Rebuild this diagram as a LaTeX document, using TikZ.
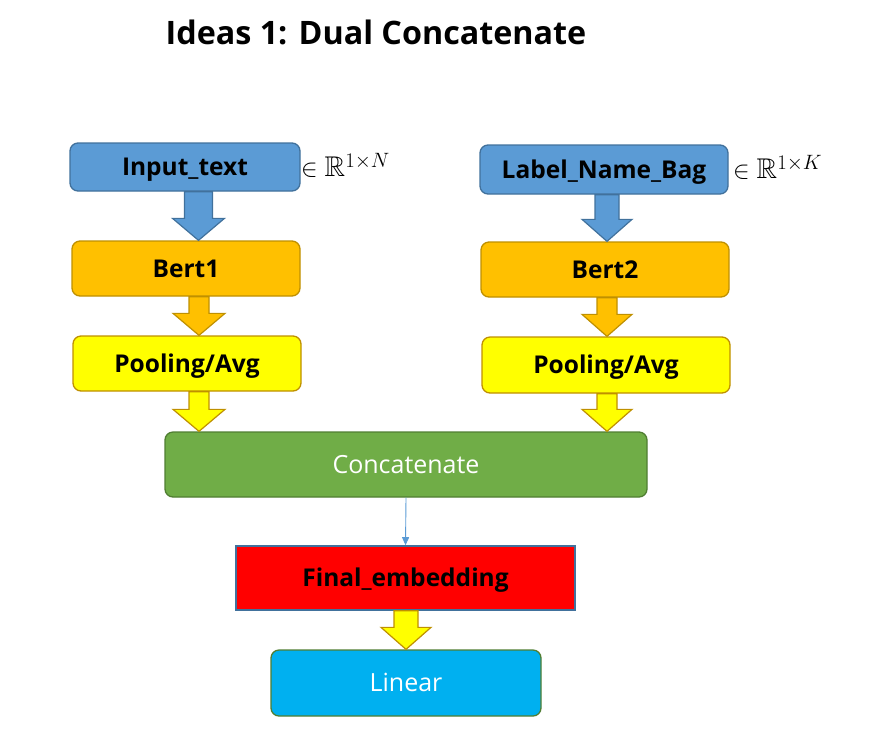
\documentclass[tikz,border=0pt]{standalone}
\usepackage{amssymb}
\usepackage{fontspec}
\setmainfont{Open Sans}
\usetikzlibrary{arrows.meta,calc}
\definecolor{cblue}{HTML}{5B9BD5}
\definecolor{cblueedge}{HTML}{41719C}
\definecolor{corange}{HTML}{FFC000}
\definecolor{cgoldedge}{HTML}{BF9000}
\definecolor{cyellow}{HTML}{FFFF00}
\definecolor{cgreen}{HTML}{70AD47}
\definecolor{cgreenedge}{HTML}{507E32}
\definecolor{ccyan}{HTML}{00B0F0}
\tikzset{
  capcenter/.style={text height=17.6pt, text depth=0pt},
  box/.style={draw, line width=1.3pt, rounded corners=8pt, inner sep=0pt, capcenter, font=\fontsize{24.5}{28}\selectfont\bfseries},
  inbox/.style={box, fill=cblue, draw=cblueedge},
  bertbox/.style={box, fill=corange, draw=cgoldedge},
  poolbox/.style={box, fill=cyellow, draw=cgoldedge},
  catbox/.style={box, fill=cgreen, draw=cgreenedge, text=white, font=\fontsize{25}{28}\selectfont},
  finbox/.style={draw=cblueedge, fill=red, line width=1.6pt, inner sep=0pt, capcenter, font=\fontsize{24.5}{28}\selectfont\bfseries},
  linbox/.style={box, fill=ccyan, draw=cgreenedge, text=white, font=\fontsize{25}{28}\selectfont},
  barrow/.style={line width=1.2pt, line join=miter},
}
\newcommand{\blkarrow}[6]{%
  \draw[barrow,#6] let \p1=(#1.south), \p2=(#2.north) in
    (#3-#4,\y1) -- (#3+#4,\y1) -- (#3+#4,\y2+22pt) -- (#3+#5,\y2+22pt) -- (#3,\y2)
    -- (#3-#5,\y2+22pt) -- (#3-#4,\y2+22pt) -- cycle;}
\begin{document}
\begin{tikzpicture}[x=1pt,y=-1pt]
\useasboundingbox (0,0) rectangle (896,732);
\node[font=\fontsize{32.3}{36}\selectfont\bfseries] (title) at (376,32) {Ideas 1: Dual Concatenate};

\node[inbox, minimum width=230pt, minimum height=48pt] (inp) at (185,167) {Input\_text};
\node[inbox, minimum width=248pt, minimum height=49pt] (lbl) at (604,169.5) {Label\_Name\_Bag};
\node[anchor=west, font=\fontsize{28.5}{32}\selectfont, inner sep=0pt] (dimN) at (301,165) {$\in \mathbb{R}^{1\times N}$};
\node[anchor=west, font=\fontsize{28.5}{32}\selectfont, inner sep=0pt] (dimK) at (733,167.5) {$\in \mathbb{R}^{1\times K}$};

\node[bertbox, minimum width=228pt, minimum height=55pt] (b1) at (186,268.5) {Bert1};
\node[bertbox, minimum width=248pt, minimum height=55pt] (b2) at (605,269.5) {Bert2};

\node[poolbox, minimum width=228pt, minimum height=55pt] (p1) at (187,363.5) {Pooling/Avg};
\node[poolbox, minimum width=248pt, minimum height=56pt] (p2) at (606,365) {Pooling/Avg};

\node[catbox, minimum width=482pt, minimum height=65pt] (cat) at (406,464.5) {Concatenate};
\node[finbox, minimum width=339pt, minimum height=64pt] (fin) at (405.5,578) {Final\_embedding};
\node[linbox, minimum width=270pt, minimum height=66pt] (lin) at (406,683) {Linear};

\blkarrow{inp}{b1}{198.5}{14}{26}{fill=cblue, draw=cblueedge}
\blkarrow{lbl}{b2}{607}{12}{25}{fill=cblue, draw=cblueedge}
\blkarrow{b1}{p1}{199}{10}{26}{fill=corange, draw=cgoldedge}
\blkarrow{b2}{p2}{607}{10}{25}{fill=corange, draw=cgoldedge}
\blkarrow{p1}{cat}{199}{10}{26}{fill=cyellow, draw=cgoldedge}
\blkarrow{p2}{cat}{607}{10}{25}{fill=cyellow, draw=cgoldedge}
\blkarrow{fin}{lin}{406}{12}{25}{fill=cyellow, draw=cgoldedge}

\draw[cblue, line width=0.9pt, -{Triangle[width=7pt,length=8pt]}] (cat.south) -- (fin.north);
\end{tikzpicture}
\end{document}
